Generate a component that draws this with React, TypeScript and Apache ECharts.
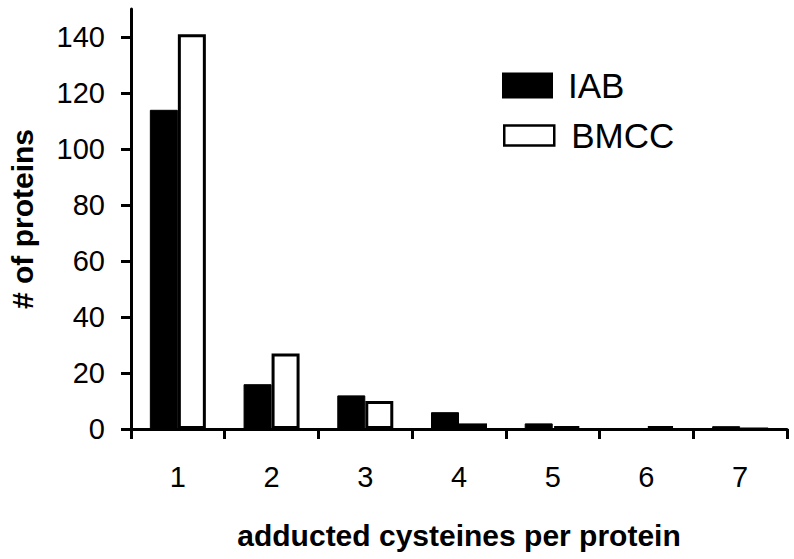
import React, { useEffect, useRef } from "react";
import * as echarts from "echarts";

const categories = ["1", "2", "3", "4", "5", "6", "7"];
const iabValues = [114, 16, 12, 6, 2, 0, 1];
const bmccValues = [141, 27, 10, 2, 1, 1, 0];
const yTicks = [0, 20, 40, 60, 80, 100, 120, 140];

const FONT = "'Liberation Sans', Arial, Helvetica, sans-serif";

export default function App() {
  const ref = useRef<HTMLDivElement>(null);
  useEffect(() => {
    document.body.style.margin = "0";
    if (!ref.current) return;
    const chart = echarts.init(ref.current, null, { renderer: "svg" });
    chart.setOption({
      animation: false,
      backgroundColor: "#ffffff",
      grid: { left: 131, right: 7, top: 9, bottom: 130, containLabel: false, outerBoundsMode: "none" },
      legend: [
        {
          data: ["IAB"],
          icon: "rect",
          left: 502,
          top: 68,
          padding: 0,
          itemWidth: 51,
          itemHeight: 26,
          selectedMode: false,
          itemStyle: { color: "#000", borderColor: "#000", borderWidth: 0 },
          textStyle: { fontFamily: FONT, fontSize: 35, color: "#000", padding: [0, 0, 0, 10] },
        },
        {
          data: ["BMCC"],
          icon: "rect",
          left: 503,
          top: 118,
          padding: 0,
          itemWidth: 50,
          itemHeight: 20,
          selectedMode: false,
          itemStyle: { color: "#fff", borderColor: "#000", borderWidth: 2.5 },
          textStyle: { fontFamily: FONT, fontSize: 35, color: "#000", padding: [0, 0, 0, 12] },
        },
      ],
      xAxis: {
        type: "category",
        data: categories,
        boundaryGap: true,
        name: "adducted cysteines per protein",
        nameLocation: "middle",
        nameGap: 91,
        nameTextStyle: { fontFamily: FONT, fontSize: 30, fontWeight: "bold", color: "#000" },
        axisLine: { lineStyle: { color: "#000", width: 3 } },
        axisTick: { show: true, alignWithLabel: false, length: 10, lineStyle: { color: "#000", width: 3 } },
        axisLabel: { fontFamily: FONT, fontSize: 29, color: "#000", margin: 33 },
        splitLine: { show: false },
      },
      yAxis: {
        type: "value",
        min: 0,
        max: 150,
        interval: 20,
        name: "# of proteins",
        nameLocation: "middle",
        nameGap: 94,
        nameRotate: 90,
        nameTextStyle: { fontFamily: FONT, fontSize: 30, fontWeight: "bold", color: "#000" },
        axisLine: { show: true, lineStyle: { color: "#000", width: 3 } },
        axisTick: { show: true, length: 10, customValues: yTicks, lineStyle: { color: "#000", width: 3 } },
        axisLabel: { fontFamily: FONT, fontSize: 29, color: "#000", margin: 26, customValues: yTicks },
        splitLine: { show: false },
      },
      series: [
        {
          name: "IAB",
          type: "bar",
          data: iabValues,
          barWidth: 28,
          barGap: "0%",
          itemStyle: { color: "#000", borderColor: "#000", borderWidth: 1 },
        },
        {
          name: "BMCC",
          type: "bar",
          data: bmccValues,
          barWidth: 28,
          barGap: "0%",
          itemStyle: { color: "#fff", borderColor: "#000", borderWidth: 3 },
        },
      ],
    });
    return () => chart.dispose();
  }, []);
  return <div ref={ref} style={{ width: 794, height: 559 }} />;
}
